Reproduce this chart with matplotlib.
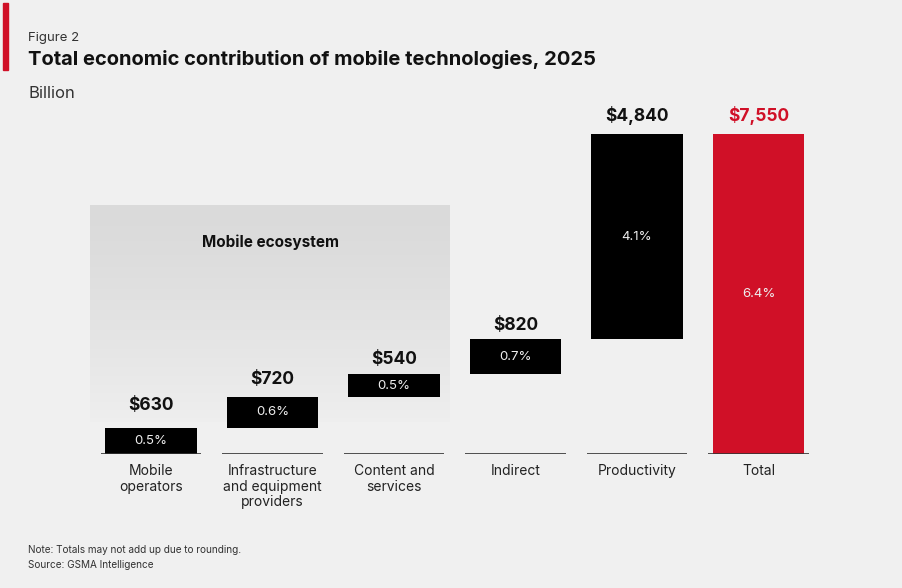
import numpy as np
import matplotlib
matplotlib.use("Agg")
import matplotlib.pyplot as plt

categories = ["Mobile\noperators", "Infrastructure\nand equipment\nproviders",
              "Content and\nservices", "Indirect", "Productivity", "Total"]
values = [630, 720, 540, 820, 4840, 7550]
value_labels = ["$630", "$720", "$540", "$820", "$4,840", "$7,550"]
pct_labels = ["0.5%", "0.6%", "0.5%", "0.7%", "4.1%", "6.4%"]
is_total = [False, False, False, False, False, True]

BG = "#f0f0f0"
RED = "#d01027"
W, H = 902, 588

plt.rcParams['font.family'] = ['Inter', 'DejaVu Sans']

fig = plt.figure(figsize=(W / 100, H / 100), dpi=100, facecolor=BG)

def fx(px):
    return px / W

def fy(py):
    return 1 - py / H

# gradient "Mobile ecosystem" panel
gx0, gx1, gy0, gy1 = 90, 450, 205, 422
gax = fig.add_axes([fx(gx0), fy(gy1), fx(gx1 - gx0), (gy1 - gy0) / H], zorder=0)
t = np.linspace(0, 1, 256)[:, None]
top = np.array([0.855, 0.855, 0.855])
bot = np.array([0.935, 0.935, 0.935])
grad = top[None, None, :] * (1 - t[..., None] ** 1.3) + bot[None, None, :] * (t[..., None] ** 1.3)
grad = np.repeat(grad, 2, axis=1)
gax.imshow(grad, aspect='auto', extent=[0, 1, 0, 1])
gax.axis('off')
fig.text(fx(270), fy(247), "Mobile ecosystem", ha='center', va='baseline',
         fontsize=11, fontweight='bold', color='#111111')

# main axes
base_px, top_val_px, ax_top_px = 454.3, 134.3, 100
left_px, right_px = 90.25, 819.25
total_val = values[-1]
ytop = total_val * (base_px - ax_top_px) / (base_px - top_val_px)
ax = fig.add_axes([fx(left_px), fy(base_px), fx(right_px - left_px), (base_px - ax_top_px) / H], zorder=1)
ax.patch.set_alpha(0)
ax.set_xlim(-0.5, len(values) - 0.5)
ax.set_ylim(0, ytop)
ax.axis('off')

# label gap above each bar (points) - styling
label_pad = [12.5, 9.5, 7, 7, 9.5, 9.5]

cum = 0
bar_w = 0.75
seg_w = 0.83
for i, (v, vl, pl, tot) in enumerate(zip(values, value_labels, pct_labels, is_total)):
    bottom = 0 if tot else cum
    color = RED if tot else "#000000"
    ax.bar(i, v, bottom=bottom, width=bar_w, color=color, zorder=2)
    ax.plot([i - seg_w / 2, i + seg_w / 2], [0, 0], color='#333333', lw=1.2,
            solid_capstyle='butt', zorder=3)
    ax.annotate(vl, (i, bottom + v), xytext=(0, label_pad[i]), textcoords='offset points',
                ha='center', va='baseline', fontsize=12.5, fontweight='bold',
                color=RED if tot else '#111111')
    ax.text(i, bottom + v / 2, pl, ha='center', va='center', fontsize=9.5,
            color='#eeeeee', zorder=4)
    ax.annotate(categories[i], (i, 0), xytext=(0, -7), textcoords='offset points',
                ha='center', va='top', fontsize=10, color='#222222', linespacing=1.15)
    if not tot:
        cum += v

# header
fig.patches.append(plt.Rectangle((fx(3), fy(70)), fx(5), 67 / H, transform=fig.transFigure,
                                 color=RED, zorder=5))
fig.text(fx(28), fy(40.7), "Figure 2", fontsize=9.5, color='#333333', va='baseline')
fig.text(fx(28), fy(65), "Total economic contribution of mobile technologies, 2025",
         fontsize=14.5, fontweight='bold', color='#111111', va='baseline')
fig.text(fx(28), fy(98), "Billion", fontsize=12, color='#333333', va='baseline')

fig.text(fx(28), fy(553), "Note: Totals may not add up due to rounding.", fontsize=7.2,
         color='#333333', va='baseline')
fig.text(fx(28), fy(567.7), "Source: GSMA Intelligence", fontsize=7.2,
         color='#333333', va='baseline')

fig.savefig("out.png", dpi=100, facecolor=BG)
